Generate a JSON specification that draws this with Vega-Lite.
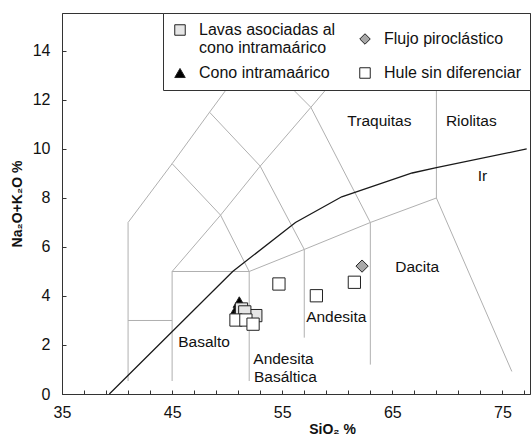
{
  "$schema": "https://vega.github.io/schema/vega-lite/v6.json",
  "width": 468,
  "height": 381,
  "autosize": {"type": "none"},
  "padding": {"left": 62, "top": 13, "right": 2, "bottom": 48},
  "config": {
    "font": "Liberation Sans",
    "view": {"stroke": "#333333", "strokeWidth": 1},
    "axis": {
      "grid": false,
      "domainColor": "#333333",
      "tickColor": "#333333",
      "tickSize": -4,
      "labelFontSize": 16,
      "labelColor": "#111111",
      "labelOverlap": false,
      "titleFontSize": 14,
      "titleFontWeight": "bold",
      "titleColor": "#111111",
      "labelFont": "Liberation Sans",
      "titleFont": "Liberation Sans"
    },
    "legend": {
      "orient": "top-right",
      "offset": 0,
      "columns": 2,
      "strokeColor": "#333333",
      "fillColor": "white",
      "padding": 9,
      "columnPadding": 21,
      "rowPadding": 9,
      "labelFontSize": 16,
      "labelFont": "Liberation Sans",
      "labelColor": "#111111",
      "labelOffset": 11,
      "labelLimit": 300,
      "symbolSize": 110,
      "symbolStrokeColor": "#333333",
      "symbolStrokeWidth": 1,
      "title": null
    }
  },
  "resolve": {"axis": {"x": "independent"}},
  "datasets": {
    "bounds": [
      {"seg": "A", "ord": 1, "x": 41, "y": 0.53},
      {"seg": "A", "ord": 2, "x": 41, "y": 7},
      {"seg": "A", "ord": 3, "x": 45, "y": 9.4},
      {"seg": "A", "ord": 4, "x": 48.4, "y": 11.5},
      {"seg": "A", "ord": 5, "x": 52.5, "y": 14},
      {"seg": "B", "ord": 1, "x": 41, "y": 3},
      {"seg": "B", "ord": 2, "x": 45, "y": 3},
      {"seg": "C", "ord": 1, "x": 45, "y": 0.53},
      {"seg": "C", "ord": 2, "x": 45, "y": 5},
      {"seg": "C", "ord": 3, "x": 52, "y": 5},
      {"seg": "C", "ord": 4, "x": 57, "y": 5.9},
      {"seg": "C", "ord": 5, "x": 63, "y": 7},
      {"seg": "C", "ord": 6, "x": 69, "y": 8},
      {"seg": "C", "ord": 7, "x": 75.85, "y": 0.92},
      {"seg": "D", "ord": 1, "x": 52, "y": 0.53},
      {"seg": "D", "ord": 2, "x": 52, "y": 5},
      {"seg": "E", "ord": 1, "x": 57, "y": 2.3},
      {"seg": "E", "ord": 2, "x": 57, "y": 5.9},
      {"seg": "F", "ord": 1, "x": 63, "y": 1.2},
      {"seg": "F", "ord": 2, "x": 63, "y": 7},
      {"seg": "G", "ord": 1, "x": 45, "y": 5},
      {"seg": "G", "ord": 2, "x": 49.4, "y": 7.3},
      {"seg": "G", "ord": 3, "x": 52, "y": 5},
      {"seg": "H", "ord": 1, "x": 45, "y": 9.4},
      {"seg": "H", "ord": 2, "x": 49.4, "y": 7.3},
      {"seg": "H", "ord": 3, "x": 53, "y": 9.3},
      {"seg": "H", "ord": 4, "x": 57, "y": 5.9},
      {"seg": "I", "ord": 1, "x": 48.4, "y": 11.5},
      {"seg": "I", "ord": 2, "x": 53, "y": 9.3},
      {"seg": "I", "ord": 3, "x": 57.6, "y": 11.7},
      {"seg": "I", "ord": 4, "x": 63, "y": 7},
      {"seg": "J", "ord": 1, "x": 52.5, "y": 14},
      {"seg": "J", "ord": 2, "x": 57.6, "y": 11.7},
      {"seg": "J", "ord": 3, "x": 61, "y": 13.5},
      {"seg": "K", "ord": 1, "x": 69, "y": 8},
      {"seg": "K", "ord": 2, "x": 69, "y": 15.5}
    ],
    "ir": [
      {"x": 39.3, "y": 0},
      {"x": 50.5, "y": 5.0},
      {"x": 56.2, "y": 7.0},
      {"x": 60.4, "y": 8.05},
      {"x": 66.8, "y": 9.02},
      {"x": 69.0, "y": 9.24},
      {"x": 77.2, "y": 10.0}
    ],
    "pts": [
      {"tipo": "Cono intramaárico", "x": 50.9, "y": 3.5},
      {"tipo": "Cono intramaárico", "x": 51.2, "y": 3.55},
      {"tipo": "Cono intramaárico", "x": 51.1, "y": 3.75},
      {"tipo": "Lavas asociadas al|cono intramaárico", "x": 52.6, "y": 3.2},
      {"tipo": "Lavas asociadas al|cono intramaárico", "x": 51.3, "y": 3.47},
      {"tipo": "Lavas asociadas al|cono intramaárico", "x": 51.6, "y": 3.35},
      {"tipo": "Hule sin diferenciar", "x": 50.8, "y": 3.02},
      {"tipo": "Hule sin diferenciar", "x": 51.7, "y": 3.02},
      {"tipo": "Hule sin diferenciar", "x": 52.35, "y": 2.85},
      {"tipo": "Hule sin diferenciar", "x": 54.7, "y": 4.49},
      {"tipo": "Hule sin diferenciar", "x": 58.1, "y": 4.01},
      {"tipo": "Hule sin diferenciar", "x": 61.55, "y": 4.56},
      {"tipo": "Flujo piroclástico", "x": 62.25, "y": 5.22}
    ],
    "labels": [
      {"t": "Traquitas", "x": 63.82, "y": 11.16},
      {"t": "Riolitas", "x": 72.17, "y": 11.16},
      {"t": "Ir", "x": 73.18, "y": 8.88},
      {"t": "Dacita", "x": 67.26, "y": 5.18},
      {"t": "Andesita", "x": 59.91, "y": 3.16},
      {"t": "Basalto", "x": 47.9, "y": 2.14},
      {"t": "Andesita", "x": 55.11, "y": 1.43},
      {"t": "Basáltica", "x": 55.29, "y": 0.71}
    ]
  },
  "layer": [
    {
      "data": {"name": "bounds"},
      "mark": {"type": "line", "color": "#b0b0b0", "strokeWidth": 1, "clip": true},
      "encoding": {
        "x": {
          "field": "x", "type": "quantitative",
          "scale": {"domain": [35, 77.5], "nice": false, "zero": false},
          "axis": {
            "orient": "bottom",
            "title": "SiO₂ %",
            "values": [35, 45, 55, 65, 75],
            "labelOverlap": false,
            "labelFlush": false,
            "labelPadding": 14,
            "titlePadding": 2,
            "titleX": 270
          }
        },
        "y": {
          "field": "y", "type": "quantitative",
          "scale": {"domain": [0, 15.55], "nice": false, "zero": false},
          "axis": {
            "title": "Na₂O+K₂O %",
            "values": [0, 1, 2, 3, 4, 5, 6, 7, 8, 9, 10, 11, 12, 13, 14, 15],
            "labelExpr": "datum.value % 2 == 0 ? datum.label : ''",
            "labelOverlap": false,
            "labelPadding": 16,
            "titlePadding": 8
          }
        },
        "detail": {"field": "seg"},
        "order": {"field": "ord", "type": "quantitative"}
      }
    },
    {
      "data": {"name": "ir"},
      "mark": {"type": "line", "color": "#1a1a1a", "strokeWidth": 1.3, "clip": true},
      "encoding": {
        "x": {
          "field": "x", "type": "quantitative",
          "axis": {
            "orient": "bottom",
            "title": null,
            "labels": false,
            "domain": false,
            "values": [37, 39, 41, 43, 47, 49, 51, 53, 57, 59, 61, 63, 67, 69, 71, 73, 77]
          }
        },
        "y": {"field": "y", "type": "quantitative"}
      }
    },
    {
      "data": {"name": "labels"},
      "mark": {"type": "text", "fontSize": 15.5, "color": "#111111", "align": "center", "baseline": "middle", "font": "Liberation Sans"},
      "encoding": {
        "x": {"field": "x", "type": "quantitative", "axis": null},
        "y": {"field": "y", "type": "quantitative"},
        "text": {"field": "t"}
      }
    },
    {
      "data": {"name": "pts"},
      "mark": {"type": "point", "filled": true, "size": 150, "strokeWidth": 1, "opacity": 1},
      "encoding": {
        "x": {"field": "x", "type": "quantitative", "axis": null},
        "y": {"field": "y", "type": "quantitative"},
        "shape": {
          "field": "tipo", "type": "nominal",
          "scale": {
            "domain": ["Lavas asociadas al|cono intramaárico", "Cono intramaárico", "Flujo piroclástico", "Hule sin diferenciar"],
            "range": ["square", "triangle-up", "diamond", "square"]
          },
          "legend": {"labelExpr": "split(datum.label, '|')"}
        },
        "fill": {
          "field": "tipo", "type": "nominal",
          "scale": {
            "domain": ["Lavas asociadas al|cono intramaárico", "Cono intramaárico", "Flujo piroclástico", "Hule sin diferenciar"],
            "range": ["#e6e6e6", "#000000", "#a8a8a8", "#ffffff"]
          },
          "legend": {"labelExpr": "split(datum.label, '|')"}
        },
        "stroke": {
          "field": "tipo", "type": "nominal",
          "scale": {
            "domain": ["Lavas asociadas al|cono intramaárico", "Cono intramaárico", "Flujo piroclástico", "Hule sin diferenciar"],
            "range": ["#222222", "#222222", "#222222", "#222222"]
          },
          "legend": {"labelExpr": "split(datum.label, '|')"}
        }
      }
    }
  ]
}
